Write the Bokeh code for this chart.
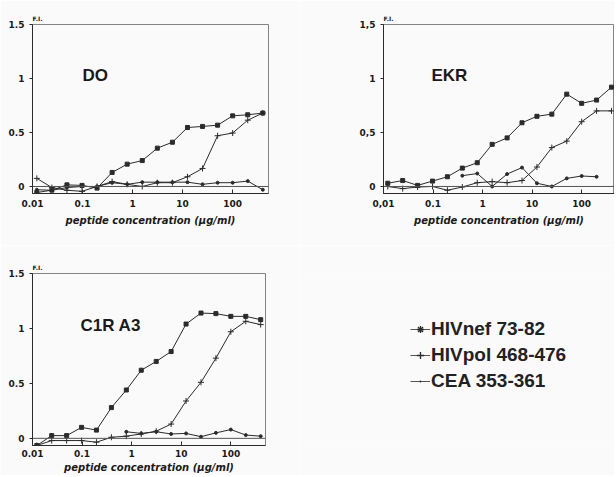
from bokeh.plotting import figure
from bokeh.models import (Range1d, FixedTicker, CustomJSTickFormatter, Span, Label,
                          Legend, LegendItem)
from bokeh.core.properties import value
from bokeh.layouts import column, row
from bokeh.embed import file_html
from bokeh.resources import INLINE

# ---------------- data ----------------
conc = [0.0122, 0.0244, 0.0488, 0.0977, 0.195, 0.39, 0.78, 1.56, 3.125, 6.25,
        12.5, 25, 50, 100, 200, 400]

do_nef = [-0.056, -0.034, 0.015, 0.01, -0.015, 0.13, 0.207, 0.24, 0.355, 0.41,
          0.546, 0.556, 0.568, 0.654, 0.664, 0.68]
do_pol = [0.075, -0.01, -0.035, -0.045, 0.0, 0.045, 0.02, 0.0, 0.035, 0.035,
          0.09, 0.167, 0.47, 0.495, 0.614, 0.68]
do_cea_x = conc
do_cea = [-0.03, -0.035, -0.01, 0.0, 0.0, 0.035, 0.02, 0.04, 0.04, 0.04,
          0.04, 0.02, 0.035, 0.035, 0.05, -0.03]

ekr_nef = [0.03, 0.055, 0.01, 0.05, 0.09, 0.17, 0.22, 0.39, 0.45, 0.59,
           0.65, 0.67, 0.855, 0.77, 0.80, 0.92]
ekr_pol = [0.0, -0.02, -0.005, 0.0, -0.035, -0.005, 0.035, 0.045, 0.035, 0.055,
           0.18, 0.36, 0.42, 0.60, 0.70, 0.70]
ekr_cea_x = [0.39, 0.78, 1.56, 3.125, 6.25, 12.5, 25, 50, 100, 200]
ekr_cea = [0.10, 0.12, 0.0, 0.115, 0.175, 0.03, 0.0, 0.075, 0.097, 0.09]

c1r_nef = [-0.065, 0.025, 0.025, 0.10, 0.075, 0.28, 0.44, 0.62, 0.70, 0.79,
           1.04, 1.14, 1.135, 1.11, 1.11, 1.08]
c1r_pol = [-0.065, -0.02, -0.02, -0.02, -0.035, 0.01, 0.02, 0.04, 0.065, 0.13,
           0.34, 0.51, 0.73, 0.97, 1.065, 1.035]
c1r_cea_x = [0.78, 1.56, 3.125, 6.25, 12.5, 25, 50, 100, 200, 400]
c1r_cea = [0.06, 0.045, 0.06, 0.04, 0.045, 0.015, 0.05, 0.08, 0.03, 0.02]

x_ticks = [0.01, 0.1, 1, 10, 100]
y_ticks = [0, 0.5, 1, 1.5]
x_labels_dot = ["0.01", "0.1", "1", "10", "100"]
x_labels_ekr = ["0,01", "0.1", "1", "10", "100"]
y_labels_dot = ["0", "0.5", "1", "1.5"]
y_labels_comma = ["0", "0,5", "1", "1,5"]

series_names = ["HIVnef 73-82", "HIVpol 468-476", "CEA 353-361"]
series_markers = ["asterisk", "cross", "dot"]

BG = "#fafafa"
INK = "#2b2b2b"
TICK_FONT = "DejaVu Sans"
TITLE_FONT = "Liberation Sans"


def panel(name, width, height, xmax, xlabels, ylabels, borders,
          nef, pol, cea_x, cea, name_x, tick_standoff, label_standoff):
    bl, br, bt, bb = borders
    p = figure(width=width, height=height, x_axis_type="log",
               x_range=Range1d(0.01, xmax), y_range=Range1d(-0.065, 1.5),
               output_backend="svg", toolbar_location=None,
               min_border_left=bl, min_border_right=br,
               min_border_top=bt, min_border_bottom=bb,
               background_fill_color=BG, border_fill_color=BG)
    p.grid.visible = False
    p.outline_line_color = "#666666"
    p.outline_line_alpha = 0.8

    p.title.text = "F.I."
    p.title.align = "left"
    p.title.text_font = TICK_FONT
    p.title.text_font_style = "bold"
    p.title.text_font_size = "6px"
    p.title.text_color = "#1a1a1a"
    p.title.standoff = 6

    p.xaxis.ticker = FixedTicker(ticks=x_ticks)
    p.xaxis.formatter = CustomJSTickFormatter(
        args=dict(labels=xlabels),
        code="return labels[Math.round(Math.log10(tick)) + 2];")
    p.yaxis.ticker = FixedTicker(ticks=y_ticks)
    p.yaxis.formatter = CustomJSTickFormatter(
        args=dict(labels=ylabels),
        code="return labels[Math.round(tick * 2)];")
    for ax in (p.xaxis, p.yaxis):
        ax.axis_line_color = INK
        ax.major_tick_line_color = INK
        ax.minor_tick_line_color = None
        ax.major_label_text_font = TICK_FONT
        ax.major_label_text_font_style = "bold"
        ax.major_label_text_font_size = "9px"
        ax.major_label_text_color = "#1a1a1a"
    p.xaxis.major_tick_in = 4
    p.xaxis.major_tick_out = 0
    p.xaxis.major_label_standoff = tick_standoff
    p.yaxis.major_tick_in = 0
    p.yaxis.major_tick_out = 3
    p.yaxis.major_label_standoff = 5
    p.xaxis.axis_label = "peptide concentration (\u03bcg/ml)"
    p.xaxis.axis_label_text_font = TICK_FONT
    p.xaxis.axis_label_text_font_style = "bold italic"
    p.xaxis.axis_label_text_font_size = "10px"
    p.xaxis.axis_label_text_color = "#1a1a1a"
    p.xaxis.axis_label_standoff = label_standoff

    p.add_layout(Span(location=0, dimension="width", line_color="#555555",
                      line_width=1))

    p.line(conc, nef, line_color=INK, line_width=1)
    p.scatter(conc, nef, marker="square", size=4, line_color=INK,
              fill_color=INK)
    p.line(conc, pol, line_color=INK, line_width=1)
    p.scatter(conc, pol, marker="cross", size=6, line_color=INK,
              line_width=1)
    p.line(cea_x, cea, line_color=INK, line_width=1)
    p.scatter(cea_x, cea, marker="circle", size=3, line_color=INK,
              fill_color=INK)

    p.add_layout(Label(x=name_x, y=1.03, text=name, text_font=TITLE_FONT,
                       text_font_style="bold", text_font_size="17px",
                       text_color="#1a1a1a", text_baseline="middle"))
    return p


p1 = panel("DO", 300, 245, 520, x_labels_dot, y_labels_dot,
           (32, 32, 24, 52), do_nef, do_pol, do_cea_x, do_cea, 0.1, 6, 5)
p2 = panel("EKR", 314, 245, 460, x_labels_ekr, y_labels_comma,
           (83, 0, 24, 52), ekr_nef, ekr_pol, ekr_cea_x, ekr_cea, 0.093, 6, 5)
p3 = panel("C1R A3", 300, 230, 500, x_labels_dot, y_labels_dot,
           (32, 35, 28, 30), c1r_nef, c1r_pol, c1r_cea_x, c1r_cea, 0.093, 4, 2)

# legend panel: the C1R A3 series again, kept outside the visible range,
# so that only their legend keys show
p4 = figure(width=314, height=230, output_backend="svg", toolbar_location=None,
            min_border=0, background_fill_color=BG, border_fill_color=BG,
            x_axis_location=None, y_axis_location=None,
            x_axis_type="log", x_range=Range1d(1e5, 1e6),
            y_range=Range1d(10, 20))
p4.grid.visible = False
p4.outline_line_color = None
items = []
legend_data = [(conc, c1r_nef), (conc, c1r_pol), (c1r_cea_x, c1r_cea)]
for n, m, (xs, ys) in zip(series_names, series_markers, legend_data):
    lr = p4.line(xs, ys, line_color="#555555", line_width=1)
    sr = p4.scatter(xs, ys, marker=m, size=9,
                    line_color=INK, fill_color=INK, line_width=1.3)
    items.append(LegendItem(label=value(n), renderers=[lr, sr]))
legend = Legend(items=items, location=(110, 53), glyph_width=20,
                glyph_height=18, label_standoff=1, spacing=4, padding=0,
                margin=0, border_line_alpha=0, background_fill_alpha=0,
                label_text_font=TITLE_FONT, label_text_font_style="bold",
                label_text_font_size="19px", label_text_color="#222222")
p4.add_layout(legend, "center")

layout = column(row(p1, p2), row(p3, p4))

open("out.html", "w").write(file_html(layout, INLINE))
